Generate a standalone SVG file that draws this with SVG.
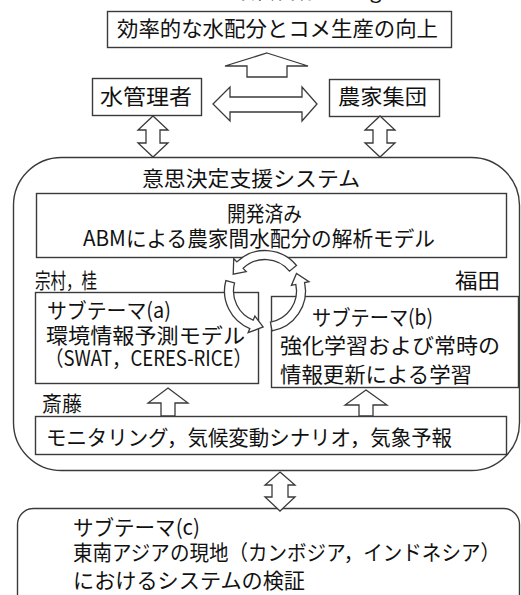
<svg xmlns="http://www.w3.org/2000/svg" width="521" height="595" viewBox="0 0 521 595">
<defs>
<style>
.b{fill:#fff;stroke:#3a3a3a;stroke-width:1.4}
.t{font-family:"Noto Sans CJK JP","Noto Sans",sans-serif;font-size:21px;fill:#111}
.a{fill:#fff;stroke:#3a3a3a;stroke-width:1.3;stroke-linejoin:miter}
</style>
</defs>
<rect width="521" height="595" fill="#fff"/>
<text class="t" x="234" y="-2">最終目標（Target）</text>

<g id="goal">
<rect class="b" x="107.5" y="11.5" width="344" height="36"/>
<text class="t" x="117" y="36" textLength="321" lengthAdjust="spacingAndGlyphs">効率的な水配分とコメ生産の向上</text>
</g>
<g id="water-manager">
<rect class="b" x="92.5" y="78.5" width="109" height="37"/>
<text class="t" x="100" y="104" textLength="92" lengthAdjust="spacingAndGlyphs">水管理者</text>
</g>
<g id="farmer-group">
<rect class="b" x="329.5" y="79.5" width="110" height="37"/>
<text class="t" x="338" y="104" textLength="89" lengthAdjust="spacingAndGlyphs">農家集団</text>
</g>

<g id="dss">
<rect class="b" x="13.5" y="157.5" width="506" height="313" rx="48" ry="48"/>
<text class="t" x="142" y="186" textLength="218" lengthAdjust="spacingAndGlyphs">意思決定支援システム</text>
</g>
<g id="abm">
<rect class="b" x="36.5" y="193.5" width="470" height="64"/>
<text class="t" x="227" y="221" textLength="75" lengthAdjust="spacingAndGlyphs">開発済み</text>
<text class="t" x="83" y="246" textLength="352" lengthAdjust="spacingAndGlyphs">ABMによる農家間水配分の解析モデル</text>
</g>
<g id="label-munemura">
<text class="t" x="35" y="288" textLength="62" lengthAdjust="spacingAndGlyphs">宗村，桂</text>
</g>
<g id="label-fukuda">
<text class="t" x="455" y="288" textLength="45" lengthAdjust="spacingAndGlyphs">福田</text>
</g>
<g id="subtheme-a">
<rect class="b" x="35.5" y="292.5" width="223" height="91"/>
<text class="t" x="47" y="318" textLength="124" lengthAdjust="spacingAndGlyphs">サブテーマ(a)</text>
<text class="t" x="46" y="343" textLength="199" lengthAdjust="spacingAndGlyphs">環境情報予測モデル</text>
<text class="t" x="45" y="366" font-size="19" textLength="207" lengthAdjust="spacingAndGlyphs">（SWAT，CERES-RICE）</text>
</g>
<g id="subtheme-b">
<rect class="b" x="271.5" y="296.5" width="247" height="91"/>
<text class="t" x="312" y="325" textLength="121" lengthAdjust="spacingAndGlyphs">サブテーマ(b)</text>
<text class="t" x="280" y="353" textLength="220" lengthAdjust="spacingAndGlyphs">強化学習および常時の</text>
<text class="t" x="280" y="382" textLength="192" lengthAdjust="spacingAndGlyphs">情報更新による学習</text>
</g>
<g id="label-saito">
<text class="t" x="42" y="411" textLength="40" lengthAdjust="spacingAndGlyphs">斎藤</text>
</g>
<g id="monitoring">
<rect class="b" x="35.5" y="416.5" width="471" height="38"/>
<text class="t" x="46" y="445" textLength="406" lengthAdjust="spacingAndGlyphs">モニタリング，気候変動シナリオ，気象予報</text>
</g>
<g id="subtheme-c">
<rect class="b" x="17.5" y="508.5" width="502" height="110" rx="16" ry="16"/>
<text class="t" x="73" y="535" textLength="127" lengthAdjust="spacingAndGlyphs">サブテーマ(c)</text>
<text class="t" x="73" y="560" textLength="427" lengthAdjust="spacingAndGlyphs">東南アジアの現地（カンボジア，インドネシア）</text>
<text class="t" x="73" y="588" textLength="232" lengthAdjust="spacingAndGlyphs">におけるシステムの検証</text>
</g>

<g id="connectors">
<polygon class="a" points="267,53 308,66 287,66 287,77 247,77 247,66 225,66"/>
<polygon class="a" points="213,104 230,87 230,97 302,97 302,87 317,104 302,121 302,112 230,112 230,121"/>
<polygon class="a" points="153,116 168,130 160,130 160,143 168,143 153,157 138,143 146,143 146,130 138,130"/>
<polygon class="a" points="380,116 395,130 387,130 387,143 395,143 380,157 365,143 373,143 373,130 365,130"/>
<polygon class="a" points="168,388 188,403 175,403 175,416 161,416 161,403 148,403"/>
<polygon class="a" points="366,390 387,405 373,405 373,416 359,416 359,405 345,405"/>
<polygon class="a" points="280,472 295,485 288,485 288,497 295,497 280,511 265,497 272,497 272,485 265,485"/>
<path class="a" d="M296.47,265.51 A40.5,40.5 0 0 0 236.87,261.87 L233.74,258.63 L233.21,274.10 L246.24,271.58 L243.12,268.34 A31.5,31.5 0 0 1 289.48,271.18 Z"/>
<path class="a" d="M272.03,330.88 A40.5,40.5 0 0 0 304.61,282.58 L309.01,281.64 L296.49,273.55 L291.41,285.39 L295.81,284.45 A31.5,31.5 0 0 1 270.47,322.02 Z"/>
<path class="a" d="M225.88,280.52 A40.5,40.5 0 0 0 249.83,328.55 L248.14,332.72 L263.12,326.95 L254.89,316.03 L253.20,320.21 A31.5,31.5 0 0 1 234.57,282.85 Z"/>
</g>
</svg>
